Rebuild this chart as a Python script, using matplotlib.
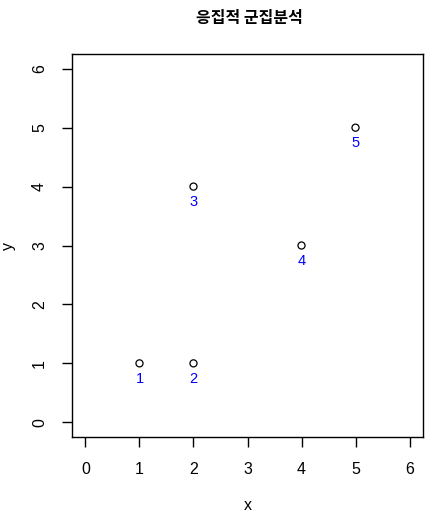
import numpy as np
import matplotlib.pyplot as plt

plt.rcParams['font.family'] = ['Liberation Sans', 'Noto Sans CJK KR', 'DejaVu Sans']

## Données
x = [1, 2, 2, 4, 5]
y = [1, 1, 4, 3, 5]
etiquettes = ['1', '2', '3', '4', '5']
titre = '응집적 군집분석'
ticks = [0, 1, 2, 3, 4, 5, 6]

fig = plt.figure(figsize=(4.4, 5.23), dpi=100)
ax = fig.add_axes([0.1636, 0.1644, 0.7978, 0.7323])

ax.scatter(x, y, s=26, facecolors='none', edgecolors='black', linewidths=0.9)
for xi, yi, lab in zip(x, y, etiquettes):
    ax.annotate(lab, (xi, yi), xytext=(0, -6), textcoords='offset points',
                ha='center', va='top', color='blue', fontsize=10.5)

ax.set_xlim(-0.25, 6.25)
ax.set_ylim(-0.25, 6.25)
ax.set_xticks(ticks)
ax.set_yticks(ticks)
ax.tick_params(direction='out', length=7, width=1, labelsize=11.5, pad=11)
for t in ax.get_yticklabels():
    t.set_rotation(90)
    t.set_va('center')
for s in ax.spines.values():
    s.set_linewidth(1)

ax.set_xlabel('x', fontsize=11.5, va='center')
ax.set_ylabel('y', fontsize=11.5, va='center')
ax.xaxis.set_label_coords(0.5, -0.178)
ax.yaxis.set_label_coords(-0.182, 0.5)
fig.text(0.568, 0.966, titre, ha='center', va='center', fontsize=11.5,
         fontweight='bold', family=['Noto Sans CJK KR', 'DejaVu Sans'])

fig.savefig('out.png', dpi=100)
